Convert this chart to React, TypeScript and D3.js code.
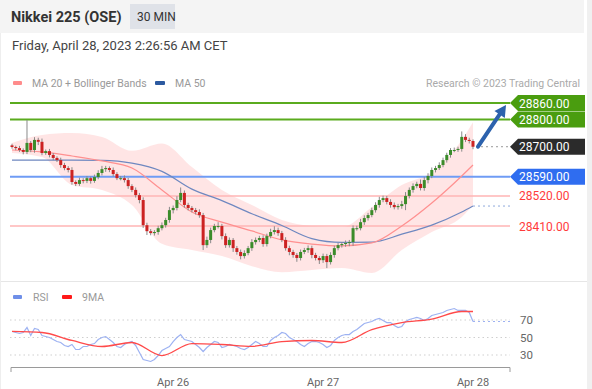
import * as d3 from "d3";

// 30 min candles, closing prices
const closes = [
  28699, 28695, 28688, 28681, 28714, 28688, 28725, 28718, 28677, 28684,
  28670, 28659, 28651, 28633, 28622, 28615, 28571, 28564, 28578, 28575,
  28585, 28575, 28589, 28604, 28618, 28622, 28615, 28600, 28585, 28585,
  28578, 28556, 28542, 28523, 28505, 28413, 28391, 28384, 28388, 28402,
  28413, 28432, 28468, 28476, 28505, 28531, 28487, 28476, 28468, 28461,
  28450, 28340, 28359, 28395, 28410, 28410, 28373, 28340, 28359, 28329,
  28315, 28300, 28311, 28329, 28351, 28359, 28366, 28344, 28373, 28388,
  28395, 28384, 28359, 28329, 28315, 28304, 28293, 28315, 28322, 28329,
  28304, 28293, 28285, 28300, 28278, 28304, 28329, 28340, 28344, 28348,
  28351, 28402, 28402, 28424, 28439, 28450, 28468, 28487, 28505, 28512,
  28498, 28487, 28479, 28483, 28490, 28520, 28542, 28556, 28564, 28549,
  28578, 28593, 28615, 28622, 28633, 28651, 28670, 28688, 28688, 28692,
  28736, 28725, 28721, 28700,
];
const firstOpen = 28705;
// wick length above / below the body, in points
const wickUp = [
  6, 5, 8, 6, 84, 7, 10, 8, 12, 6,
  8, 7, 6, 9, 8, 7, 10, 6, 9, 7,
  8, 6, 9, 10, 12, 8, 6, 9, 7, 8,
  10, 8, 7, 9, 8, 10, 9, 8, 7, 9,
  10, 8, 12, 9, 14, 20, 9, 8, 7, 8,
  10, 8, 12, 9, 8, 14, 8, 10, 9, 7,
  8, 9, 10, 8, 11, 9, 8, 10, 9, 12,
  14, 9, 8, 10, 9, 8, 7, 9, 8, 10,
  9, 8, 7, 9, 8, 10, 9, 8, 7, 9,
  8, 10, 9, 12, 10, 8, 9, 10, 12, 9,
  8, 10, 9, 8, 12, 14, 9, 10, 8, 16,
  12, 10, 9, 8, 10, 9, 8, 7, 9, 8,
  20, 10, 8, 6,
];
const wickDn = [
  6, 8, 7, 9, 8, 8, 10, 12, 8, 7,
  9, 8, 7, 10, 8, 9, 10, 8, 7, 9,
  8, 10, 7, 8, 9, 10, 8, 9, 7, 8,
  9, 10, 8, 9, 12, 10, 14, 8, 9, 10,
  8, 9, 10, 12, 9, 8, 10, 9, 8, 9,
  10, 18, 10, 12, 8, 9, 12, 10, 9, 14,
  10, 12, 9, 8, 10, 9, 8, 10, 9, 8,
  9, 10, 8, 9, 12, 10, 14, 9, 8, 10,
  12, 9, 14, 10, 22, 9, 10, 8, 9, 10,
  12, 14, 9, 8, 10, 9, 8, 9, 10, 8,
  9, 10, 8, 9, 10, 22, 9, 10, 8, 9,
  10, 12, 8, 9, 7, 8, 9, 10, 8, 7,
  10, 8, 9, 9,
];

// moving averages and bands, read at these candle indices
const maIdx = [0, 8, 16, 24, 32, 40, 48, 56, 64, 72, 80, 88, 96, 104, 112, 120, 123];
const ma20 = [28688, 28681, 28666, 28648, 28622, 28542, 28461, 28424, 28392, 28359, 28344, 28337, 28348, 28410, 28494, 28593, 28633];
const ma50 = [28651, 28651, 28651, 28650, 28640, 28610, 28545, 28503, 28455, 28412, 28364, 28350, 28351, 28380, 28413, 28461, 28483];
const bandUp = [28714, 28743, 28750, 28736, 28685, 28712, 28626, 28542, 28487, 28432, 28410, 28406, 28479, 28560, 28607, 28725, 28790];
const bandLo = [28677, 28662, 28560, 28542, 28487, 28345, 28322, 28300, 28263, 28241, 28249, 28256, 28238, 28322, 28388, 28443, 28487];

const rsi = [
  56.9, 55.7, 54.6, 55.7, 61.4, 52.3, 60.3, 59.1, 52.3, 51.1,
  50, 47.7, 45.4, 44.3, 40.9, 39.7, 42, 36.3, 36.3, 39.7,
  39.7, 42, 43.1, 47.7, 50, 51.1, 47.7, 44.3, 39.7, 38.6,
  42, 44.3, 45.4, 40.9, 32.9, 24.9, 23.7, 22.6, 24.9, 29.4,
  35.1, 37.4, 39.7, 45.4, 50, 53.4, 47.7, 46.6, 45.4, 42,
  38.6, 34, 38.6, 42, 45.4, 44.3, 38.6, 39.7, 42, 40.9,
  39.7, 37.4, 36.3, 38.6, 42, 45.4, 43.1, 39.7, 39.7, 46.6,
  50, 52.3, 55.7, 54.6, 50, 47.7, 45.4, 42, 39.7, 43.1,
  45.4, 45.4, 44.3, 42, 38.6, 40.9, 46.6, 50, 52.3, 53.4,
  53.4, 56.9, 59.1, 62.6, 66, 67.1, 68.3, 70.6, 71.7, 69.4,
  67.1, 67.1, 63.7, 61.4, 62.6, 68.3, 70.6, 71.7, 72.9, 71.7,
  69.4, 71.7, 75.1, 76.3, 77.4, 78.6, 80.9, 82, 83.1, 80.9,
  80.9, 80.9, 78.6, 68.3,
];
const rsiMa = [56.9, 55.7, 46.6, 39.7, 44.3, 29.4, 43.1, 42, 39.9, 45.4, 46.6, 44.3, 59.1, 67.1, 71.1, 79.7, 79.7];

const levels = [28860, 28800, 28700, 28590, 28520, 28410];
const levelKinds = ["res", "res", "last", "pivot", "sup", "sup"];
const rsiTicks = [70, 50, 30];
const dateLabels = ["Apr 26", "Apr 27", "Apr 28"];
const dateIdx = [43, 83, 123];

const W = 592;
const H = 389;
const font = "Roboto, 'Liberation Sans', Arial, sans-serif";

export default function App() {
  const x = d3.scaleLinear().domain([0, closes.length - 1]).range([12, 473]);
  const y = d3.scaleLinear().domain([28410, 28860]).range([226, 103]);
  const yR = d3.scaleLinear().domain([30, 70]).range([355, 320]);
  const left = 10;
  const right = 510;

  const opens = closes.map((c, i) => (i === 0 ? firstOpen : closes[i - 1]));

  const lineP = d3.line<number>().x((_, i) => x(maIdx[i])).y(v => y(v)).curve(d3.curveMonotoneX);
  const band = d3.area<number>()
    .x((_, i) => x(maIdx[i]))
    .y0((_, i) => y(bandLo[i]))
    .y1(v => y(v))
    .curve(d3.curveMonotoneX);
  const rsiLine = d3.line<number>().x((_, i) => x(i)).y(v => yR(v));
  const rsiMaLine = d3.line<number>().x((_, i) => x(maIdx[i])).y(v => yR(v)).curve(d3.curveMonotoneX);

  const tag = (v: number) => {
    const cy = y(v);
    return `M${right},${cy} L${right + 8},${cy - 8} L585,${cy - 8} L585,${cy + 8} L${right + 8},${cy + 8} Z`;
  };
  const tagFill: Record<string, string> = { res: "#4a9d0f", last: "#2b2b2b", pivot: "#2f6df0" };
  const lineColor: Record<string, string> = { res: "#5aab1e", pivot: "#6f9cf5", sup: "#ffb4b4" };

  const last = closes.length - 1;
  const ax0 = x(last) + 5;
  const ay0 = y(closes[last]);
  const ax1 = right - 4;
  const ay1 = y(levels[0]) + 2;
  const ang = Math.atan2(ay1 - ay0, ax1 - ax0);
  const hx = (a: number, r: number) => ax1 + r * Math.cos(ang + a);
  const hy = (a: number, r: number) => ay1 + r * Math.sin(ang + a);

  return (
    <svg width={W} height={H} style={{ position: "absolute", left: 0, top: 0, fontFamily: font }}>
      <rect x={0} y={0} width={W} height={H} fill="#fff" />
      <rect x={0} y={0} width={584} height={33} fill="#f4f4f4" />
      <rect x={587} y={0} width={5} height={H} fill="#f0f0f0" />
      <line x1={0} x2={587} y1={281.5} y2={281.5} stroke="#e6e6e6" />
      <line x1={0.5} x2={0.5} y1={33} y2={H} stroke="#eeeeee" />

      <text x={11} y={22} fontSize={14.5} fontWeight="bold" fill="#333">Nikkei 225 (OSE)</text>
      <rect x={130} y={4} width={45} height={25} fill="#dfe2e8" />
      <text x={137} y={21} fontSize={12} fill="#333">30 MIN</text>
      <text x={12} y={50} fontSize={13} fill="#444">Friday, April 28, 2023 2:26:56 AM CET</text>

      <rect x={13} y={81} width={9} height={4} rx={1} fill="#ff8c8c" />
      <text x={32} y={87} fontSize={10.5} fill="#999">MA 20 + Bollinger Bands</text>
      <rect x={155} y={81} width={10} height={4} rx={1} fill="#2c5aa0" />
      <text x={175} y={87} fontSize={10.5} fill="#999">MA 50</text>
      <text x={580} y={87} fontSize={10.5} fill="#aaa" textAnchor="end">Research © 2023 Trading Central</text>

      <path d={band(bandUp) || ""} fill="#ffe1e1" opacity={0.85} />

      {levels.map((v, i) => levelKinds[i] !== "last" && (
        <line key={"l" + v} x1={left} x2={right} y1={y(v)} y2={y(v)}
          stroke={lineColor[levelKinds[i]]} strokeWidth={levelKinds[i] === "sup" ? 1.5 : 2} />
      ))}

      <path d={lineP(ma50) || ""} fill="none" stroke="#6f88c0" strokeWidth={1.2} />
      <path d={lineP(ma20) || ""} fill="none" stroke="#ff9090" strokeWidth={1.2} />
      <line x1={x(last)} x2={right} y1={y(ma50[ma50.length - 1])} y2={y(ma50[ma50.length - 1])}
        stroke="#8fa9dc" strokeDasharray="2,3" />
      <line x1={x(last) + 3} x2={right} y1={y(closes[last])} y2={y(closes[last])}
        stroke="#999" strokeDasharray="2,3" />

      {closes.map((c, i) => {
        const o = opens[i];
        const hi = Math.max(o, c) + wickUp[i];
        const lo = Math.min(o, c) - wickDn[i];
        const up = c >= o;
        const top = y(Math.max(o, c));
        const h = Math.max(1, y(Math.min(o, c)) - top);
        return (
          <g key={i}>
            <line x1={x(i)} x2={x(i)} y1={y(hi)} y2={y(lo)} stroke="#8a8a8a" strokeWidth={1} />
            <rect x={x(i) - 1.5} y={top} width={3} height={h} fill={up ? "#3b8c2a" : "#cc2222"} />
          </g>
        );
      })}

      <line x1={ax0} y1={ay0} x2={hx(0, -9)} y2={hy(0, -9)} stroke="#2c62ad" strokeWidth={4} strokeLinecap="round" />
      <path d={`M${ax1},${ay1} L${hx(Math.PI - 0.5, 13)},${hy(Math.PI - 0.5, 13)} L${hx(Math.PI + 0.5, 13)},${hy(Math.PI + 0.5, 13)} Z`}
        fill="#2c62ad" />

      {levels.map((v, i) => {
        const k = levelKinds[i];
        if (k === "sup") {
          return <text key={"t" + v} x={519} y={y(v) + 4.5} fontSize={12} fill="#ff3b3b">{v.toFixed(2)}</text>;
        }
        return (
          <g key={"t" + v}>
            <path d={tag(v)} fill={tagFill[k]} />
            <text x={519} y={y(v) + 4.5} fontSize={12} fill="#fff">{v.toFixed(2)}</text>
          </g>
        );
      })}

      <rect x={13} y={295} width={9} height={4} rx={1} fill="#6f8fe8" />
      <text x={33} y={301} fontSize={10.5} fill="#999">RSI</text>
      <rect x={62} y={295} width={10} height={4} rx={1} fill="#ff1a1a" />
      <text x={82} y={301} fontSize={10.5} fill="#999">9MA</text>

      {rsiTicks.map(t => (
        <g key={t}>
          <line x1={left} x2={right} y1={yR(t)} y2={yR(t)} stroke="#cfcfcf" strokeDasharray="1.5,3" />
          <text x={520} y={yR(t) + 4} fontSize={11.5} fill="#666">{t}</text>
        </g>
      ))}
      <path d={rsiLine(rsi) || ""} fill="none" stroke="#9db2f2" strokeWidth={1.2} />
      <line x1={x(last)} x2={right} y1={yR(rsi[last])} y2={yR(rsi[last])} stroke="#9db2f2" strokeDasharray="2,3" />
      <path d={rsiMaLine(rsiMa) || ""} fill="none" stroke="#ff4a4a" strokeWidth={1.3} />

      <path d={`M${left + 1},372 V367.5 H${right} V372`} fill="none" stroke="#9a9a9a" strokeWidth={1} />
      {dateLabels.map((l, i) => (
        <text key={l} x={x(dateIdx[i])} y={386} fontSize={11} fill="#666" textAnchor="middle">{l}</text>
      ))}
    </svg>
  );
}
